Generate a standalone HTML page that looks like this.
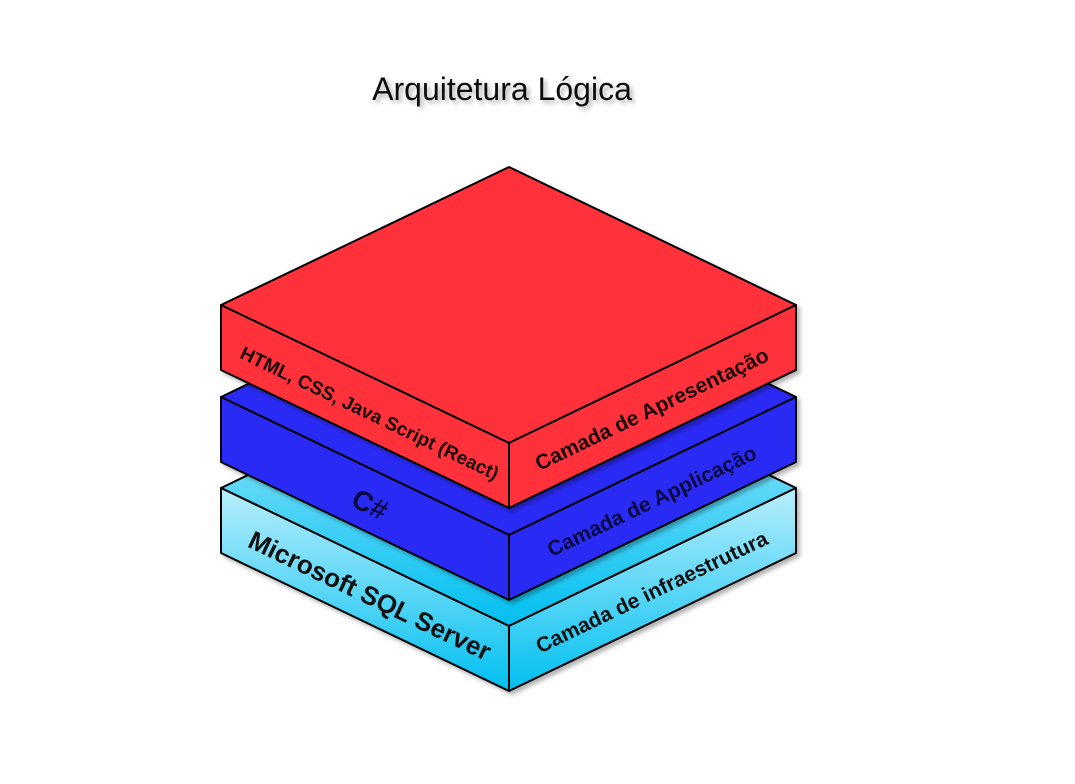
<!DOCTYPE html>
<html><head><meta charset="utf-8"><style>
body{margin:0;background:#fff;}
svg{display:block;font-family:"Liberation Sans",sans-serif;}
</style></head><body>
<svg width="1075" height="784" viewBox="0 0 1075 784">
<defs>
<linearGradient id="cy" x1="0" y1="0" x2="0" y2="1"><stop offset="0" stop-color="#b8eefc"/><stop offset="1" stop-color="#00bff0"/></linearGradient>
<filter id="sh" x="-10%" y="-10%" width="130%" height="130%"><feDropShadow dx="3" dy="3" stdDeviation="2" flood-color="#000" flood-opacity="0.3"/></filter>
</defs>
<text x="502" y="100" text-anchor="middle" font-size="32" fill="#111" filter="url(#sh)">Arquitetura Lógica</text>
<g id="blocks"></g>
</svg>
<script>
const layerNames=['infra','app','presentation'];
const layerTops=[488,397,305];
const layerFills=['url(#cy)','#2b2cf5','#ff333a'];
const leftLabels=['Microsoft SQL Server','C#','HTML, CSS, Java Script (React)'];
const rightLabels=['Camada de infraestrutura','Camada de Applicação','Camada de Apresentação'];
const leftSizes=[26,28,19];
const textColors=['#111','#0a0a40','#1a0a0a'];
const g=document.getElementById('blocks');
const NS='http://www.w3.org/2000/svg';
const xl=221,xc=509,xr=796,dy=138,h=65;
const angL=Math.atan2(dy,xc-xl)*180/Math.PI,angR=-Math.atan2(dy,xr-xc)*180/Math.PI;
layerTops.forEach((L,i)=>{
  const grp=document.createElementNS(NS,'g');
  
  
  grp.setAttribute('filter','url(#sh)');
  const polys=[
    [[xc,L-dy],[xl,L],[xc,L+dy],[xr,L]],
    [[xl,L],[xc,L+dy],[xc,L+dy+h],[xl,L+h]],
    [[xc,L+dy],[xr,L],[xr,L+h],[xc,L+dy+h]]
  ];
  polys.forEach((p,k)=>{
    const e=document.createElementNS(NS,'polygon');
    e.setAttribute('points',p.map(q=>q.join(',')).join(' '));
    e.setAttribute('fill',layerFills[i]);
    e.setAttribute('stroke','#000');
    e.setAttribute('stroke-width','2');
    e.setAttribute('stroke-linejoin','round');
    
    
    grp.appendChild(e);
  });
  g.appendChild(grp);
  const cxL=(xl+xc)/2+4,cyL=L+dy/2+h/2+8,cxR=(xc+xr)/2,cyR=L+dy/2+h/2+4;
  const t1=document.createElementNS(NS,'text');
  t1.setAttribute('x',cxL);t1.setAttribute('y',cyL);
  t1.setAttribute('text-anchor','middle');t1.setAttribute('dominant-baseline','middle');
  t1.setAttribute('font-weight','bold');t1.setAttribute('font-size',leftSizes[i]);
  t1.setAttribute('fill',textColors[i]);
  t1.setAttribute('transform','rotate('+angL+' '+cxL+' '+cyL+')');
  t1.textContent=leftLabels[i];
  
  
  g.appendChild(t1);
  const t2=document.createElementNS(NS,'text');
  t2.setAttribute('x',cxR);t2.setAttribute('y',cyR);
  t2.setAttribute('text-anchor','middle');t2.setAttribute('dominant-baseline','middle');
  t2.setAttribute('font-weight','bold');t2.setAttribute('font-size',21);
  t2.setAttribute('fill',textColors[i]);
  t2.setAttribute('transform','rotate('+angR+' '+cxR+' '+cyR+')');
  t2.textContent=rightLabels[i];
  
  
  g.appendChild(t2);
});
</script>
</body></html>
